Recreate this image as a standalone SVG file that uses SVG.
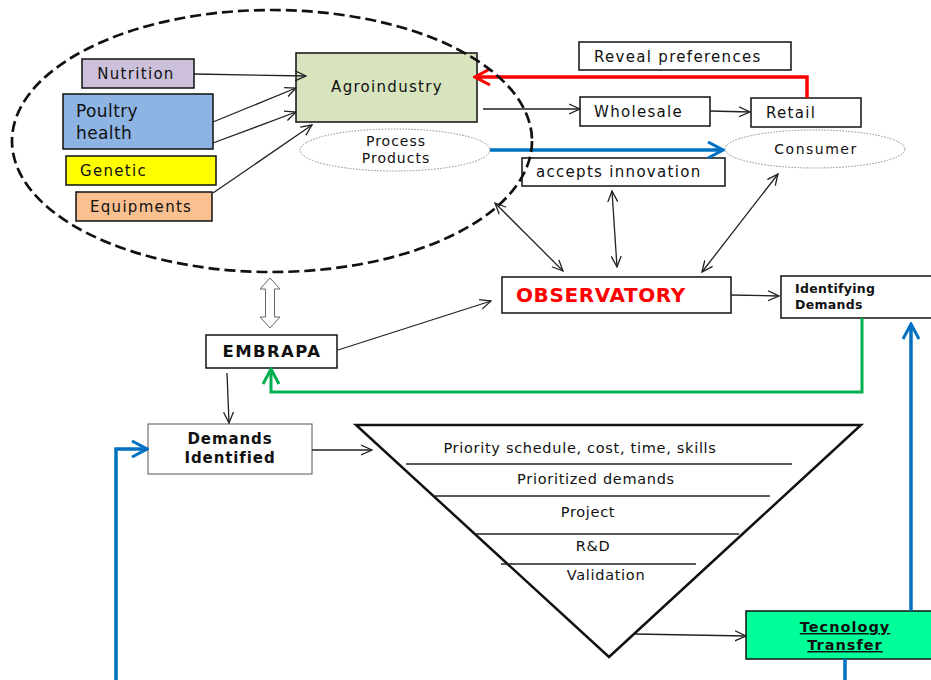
<svg xmlns="http://www.w3.org/2000/svg" width="931" height="680" viewBox="0 0 931 680">
<defs>
<style>
text{font-family:"DejaVu Sans","Liberation Sans",sans-serif;fill:#111}
.box{stroke:#111;stroke-width:1.5}
.t15{font-size:15px;letter-spacing:1.3px}
.tr{font-size:14.5px;letter-spacing:0.7px}
.b{font-weight:bold}
.c{text-anchor:middle}
.ln{stroke:#222;stroke-width:1.3;fill:none}
.dot{fill:#fff;stroke:#888;stroke-width:1;stroke-dasharray:1.5 1.5}
</style>
<marker id="ar" viewBox="0 0 12 12" refX="11" refY="6" markerWidth="12" markerHeight="12" markerUnits="userSpaceOnUse" orient="auto-start-reverse">
<path d="M0,1 L11,6 L0,11" fill="none" stroke="#222" stroke-width="1.3"/>
</marker>
<marker id="arR" viewBox="0 0 18 18" refX="16" refY="9" markerWidth="18" markerHeight="18" markerUnits="userSpaceOnUse" orient="auto">
<path d="M1,1 L16,9 L1,17" fill="none" stroke="#FF0000" stroke-width="3"/>
</marker>
<marker id="arB" viewBox="0 0 18 18" refX="16" refY="9" markerWidth="18" markerHeight="18" markerUnits="userSpaceOnUse" orient="auto">
<path d="M1,1 L16,9 L1,17" fill="none" stroke="#0070C0" stroke-width="3"/>
</marker>
<marker id="arG" viewBox="0 0 18 18" refX="16" refY="9" markerWidth="18" markerHeight="18" markerUnits="userSpaceOnUse" orient="auto">
<path d="M1,1 L16,9 L1,17" fill="none" stroke="#00B050" stroke-width="3"/>
</marker>
</defs>
<rect width="931" height="680" fill="#fff"/>

<g id="nutrition"><rect class="box" x="82" y="59" width="112" height="29" fill="#CCC0DA"/><text class="t15 c" x="136" y="79">Nutrition</text></g>
<g id="poultry"><rect class="box" x="63" y="94" width="150" height="55" fill="#8EB4E3"/><text x="76" y="117" font-size="17" letter-spacing="0.4">Poultry</text><text x="76" y="139" font-size="17" letter-spacing="0.4">health</text></g>
<g id="genetic"><rect class="box" x="66" y="156" width="150" height="29" fill="#FFFF00"/><text class="t15" x="80" y="176">Genetic</text></g>
<g id="equipments"><rect class="box" x="76" y="192" width="136" height="29" fill="#FAC090"/><text class="t15" x="90" y="212" letter-spacing="0.6">Equipments</text></g>
<g id="agroindustry"><rect class="box" x="296" y="53" width="181" height="69" fill="#D7E4BD"/><text class="t15 c" x="387" y="92">Agroindustry</text></g>
<g id="process"><ellipse class="dot" cx="395" cy="150" rx="95" ry="21"/><text class="c" x="396" y="146" font-size="14" letter-spacing="1">Process</text><text class="c" x="396" y="163" font-size="14" letter-spacing="1">Products</text></g>
<g id="reveal"><rect class="box" x="579" y="42" width="212" height="28" fill="#fff"/><text class="t15" x="594" y="62">Reveal preferences</text></g>
<g id="wholesale"><rect class="box" x="580" y="97" width="130" height="29" fill="#fff"/><text class="t15" x="594" y="117">Wholesale</text></g>
<g id="retail"><rect class="box" x="751" y="98" width="110" height="29" fill="#fff"/><text class="t15" x="766" y="118">Retail</text></g>
<g id="consumer"><ellipse class="dot" cx="815" cy="149" rx="90" ry="19"/><text class="c" x="816" y="154" font-size="14" letter-spacing="1.5">Consumer</text></g>
<g id="accepts"><rect class="box" x="522" y="158" width="203" height="28" fill="#fff"/><text class="t15" x="536" y="177">accepts innovation</text></g>
<g id="observatory"><rect class="box" x="502" y="277" width="229" height="36" fill="#fff"/><text class="b" x="516" y="302" font-size="20" letter-spacing="0.6" style="fill:#FF0000">OBSERVATORY</text></g>
<g id="identifying"><rect class="box" x="781" y="276" width="155" height="42" fill="#fff"/><text class="b" x="795" y="293" font-size="12.5" letter-spacing="0.3">Identifying</text><text class="b" x="795" y="309" font-size="12.5" letter-spacing="0.3">Demands</text></g>
<g id="embrapa"><rect class="box" x="206" y="335" width="131" height="33" fill="#fff"/><text class="b c" x="272" y="357" font-size="16.5" letter-spacing="1.4">EMBRAPA</text></g>
<g id="demands"><rect x="148" y="424" width="164" height="50" fill="#fff" stroke="#555" stroke-width="1"/><text class="b c" x="230" y="444" font-size="15" letter-spacing="0.9">Demands</text><text class="b c" x="230" y="463" font-size="15" letter-spacing="0.9">Identified</text></g>
<g id="funnel">
<polygon points="356,425 861,425 609,657" fill="#fff" stroke="#111" stroke-width="2.5" stroke-linejoin="miter"/>
<line x1="406" y1="464" x2="792" y2="464" stroke="#222" stroke-width="1.5"/>
<line x1="435" y1="496" x2="770" y2="496" stroke="#222" stroke-width="1.5"/>
<line x1="475" y1="534" x2="739" y2="534" stroke="#222" stroke-width="1.5"/>
<line x1="501" y1="564" x2="696" y2="564" stroke="#222" stroke-width="1.5"/>
<text class="c tr" x="580" y="453">Priority schedule, cost, time, skills</text>
<text class="c tr" x="596" y="484">Prioritized demands</text>
<text class="c tr" x="588" y="517">Project</text>
<text class="c tr" x="593" y="551">R&amp;D</text>
<text class="c tr" x="606" y="580">Validation</text>
</g>
<g id="transfer"><rect class="box" x="746" y="611" width="186" height="48" fill="#00FF99"/><text class="b c" x="845" y="632" font-size="14.5" letter-spacing="1" text-decoration="underline">Tecnology</text><text class="b c" x="845" y="650" font-size="14.5" letter-spacing="1" text-decoration="underline">Transfer</text></g>

<g id="connectors">
<line class="ln" x1="194" y1="74" x2="306" y2="76" marker-end="url(#ar)"/>
<line class="ln" x1="213" y1="122" x2="296" y2="88" marker-end="url(#ar)"/>
<line class="ln" x1="213" y1="143" x2="296" y2="112" marker-end="url(#ar)"/>
<line class="ln" x1="213" y1="193" x2="312" y2="125" marker-end="url(#ar)"/>
<line class="ln" x1="483" y1="109" x2="580" y2="109" marker-end="url(#ar)"/>
<line class="ln" x1="710" y1="111" x2="750" y2="112" marker-end="url(#ar)"/>
<polyline points="807,98 807,77 475,77" fill="none" stroke="#FF0000" stroke-width="3.5" marker-end="url(#arR)"/>
<line x1="490" y1="150" x2="723" y2="150" stroke="#0070C0" stroke-width="3.5" marker-end="url(#arB)"/>
<line class="ln" x1="495" y1="203" x2="563" y2="271" marker-start="url(#ar)" marker-end="url(#ar)"/>
<line class="ln" x1="612" y1="191" x2="617" y2="267" marker-start="url(#ar)" marker-end="url(#ar)"/>
<line class="ln" x1="778" y1="174" x2="702" y2="272" marker-start="url(#ar)" marker-end="url(#ar)"/>
<line class="ln" x1="731" y1="295" x2="779" y2="296" marker-end="url(#ar)"/>
<line class="ln" x1="338" y1="350" x2="491" y2="301" marker-end="url(#ar)"/>
<polygon points="270,278 280,289 274.5,289 274.5,317 280,317 270,328 260,317 265.5,317 265.5,289 260,289" fill="#fff" stroke="#666" stroke-width="1"/>
<polyline points="862,318 862,392 271,392 271,369" fill="none" stroke="#00B050" stroke-width="3" marker-end="url(#arG)"/>
<line class="ln" x1="227" y1="373" x2="229" y2="423" marker-end="url(#ar)"/>
<line class="ln" x1="312" y1="450" x2="372" y2="450" marker-end="url(#ar)"/>
<line class="ln" x1="635" y1="634" x2="746" y2="636" marker-end="url(#ar)"/>
<polyline points="116,680 116,449 147,449" fill="none" stroke="#0070C0" stroke-width="3.5" marker-end="url(#arB)"/>
<line x1="911" y1="611" x2="911" y2="324" stroke="#0070C0" stroke-width="3.5" marker-end="url(#arB)"/>
<line x1="845" y1="659" x2="845" y2="680" stroke="#0070C0" stroke-width="3.5"/>
</g>
<g id="boundary"><ellipse cx="272" cy="141" rx="260" ry="131" fill="none" stroke="#111" stroke-width="2.7" stroke-dasharray="11 5"/></g>
</svg>
